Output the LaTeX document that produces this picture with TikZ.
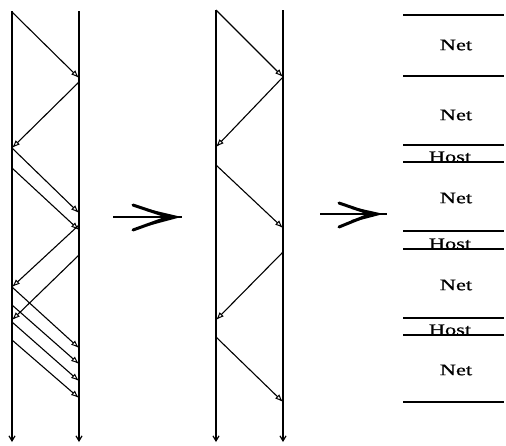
\documentclass[tikz,border=0pt]{standalone}
\usepackage{fontspec}
\newfontfamily\tabfont[FakeStretch=1.4,FakeBold=0.6]{Liberation Serif}
\usetikzlibrary{arrows.meta}
\tikzset{
  timeline/.style={line width=1.5pt,-{Straight Barb[length=5pt,width=6pt,line width=1.2pt]}},
  msg/.style={line width=1.1pt,-{Latex[open,length=8pt,width=6pt,line width=1pt]}},
  sep/.style={line width=1.1pt},
  bigarrow/.style={line width=3pt,line cap=round,line join=round},
  lbl/.style={font=\tabfont\fontsize{16}{16}\selectfont,inner sep=0pt}
}
\begin{document}
\begin{tikzpicture}[x=1pt,y=-1pt]
\useasboundingbox (0,0) rectangle (506,445);
% ---------- left diagram ----------
\coordinate (lt) at (12,11);  \coordinate (lb) at (12,442);
\coordinate (rt) at (79,11);  \coordinate (rb) at (79,442);
\draw[timeline] (lt) -- (lb);
\draw[timeline] (rt) -- (rb);
\coordinate (a1s) at (12,12);  \coordinate (a1e) at (79,78);
\coordinate (a2s) at (79,82);  \coordinate (a2e) at (12,148);
\coordinate (a3s) at (12,148); \coordinate (a3e) at (79,213);
\coordinate (a4s) at (12,168); \coordinate (a4e) at (79,230);
\coordinate (a5s) at (79,225); \coordinate (a5e) at (12,287);
\coordinate (a6s) at (79,255); \coordinate (a6e) at (12,320);
\coordinate (a7s) at (12,287); \coordinate (a7e) at (79,348);
\coordinate (a8s) at (12,305); \coordinate (a8e) at (79,364);
\coordinate (a9s) at (12,322); \coordinate (a9e) at (79,381);
\coordinate (a10s) at (12,340); \coordinate (a10e) at (79,398);
\foreach \i in {1,...,10} \draw[msg] (a\i s) -- (a\i e);
% ---------- middle diagram ----------
\coordinate (mlt) at (216,10);  \coordinate (mlb) at (216,442);
\coordinate (mrt) at (283,10);  \coordinate (mrb) at (283,442);
\draw[timeline] (mlt) -- (mlb);
\draw[timeline] (mrt) -- (mrb);
\coordinate (b1s) at (216,10);  \coordinate (b1e) at (283,77);
\coordinate (b2s) at (283,77);  \coordinate (b2e) at (216,147);
\coordinate (b3s) at (216,165); \coordinate (b3e) at (283,228);
\coordinate (b4s) at (283,252); \coordinate (b4e) at (216,320);
\coordinate (b5s) at (216,337); \coordinate (b5e) at (283,402);
\foreach \i in {1,...,5} \draw[msg] (b\i s) -- (b\i e);
% ---------- big arrows ----------
\coordinate (p1s) at (113,217); \coordinate (p1e) at (182,217);
\draw[line width=2.2pt] (p1s) -- (p1e);
\draw[bigarrow] (133,205) -- (169,217) -- (133,230);
\draw[bigarrow,line width=2.2pt] (147,210) -- (177,217) -- (147,225);
\coordinate (p2s) at (320,214); \coordinate (p2e) at (387,214);
\draw[line width=2.2pt] (p2s) -- (p2e);
\draw[bigarrow] (339,203) -- (371,214) -- (339,227);
\draw[bigarrow,line width=2.2pt] (352,208) -- (379,214) -- (352,221);
% ---------- right column ----------
\foreach \y/\n in {15/s1,76/s2,145/s3,162/s4,231/s5,249/s6,318/s7,335/s8,402/s9}
  \draw[sep] (403,\y) coordinate (\n a) -- (504,\y) coordinate (\n b);
\node[lbl] (n1) at (456,45) {Net};
\node[lbl] (n2) at (456,115) {Net};
\node[lbl] (n3) at (456,198) {Net};
\node[lbl] (n4) at (456,285) {Net};
\node[lbl] (n5) at (456,370) {Net};
\node[lbl,anchor=base] (h1) at (450,162) {Host};
\node[lbl,anchor=base] (h2) at (450,249) {Host};
\node[lbl,anchor=base] (h3) at (450,335) {Host};
\end{tikzpicture}
\end{document}
